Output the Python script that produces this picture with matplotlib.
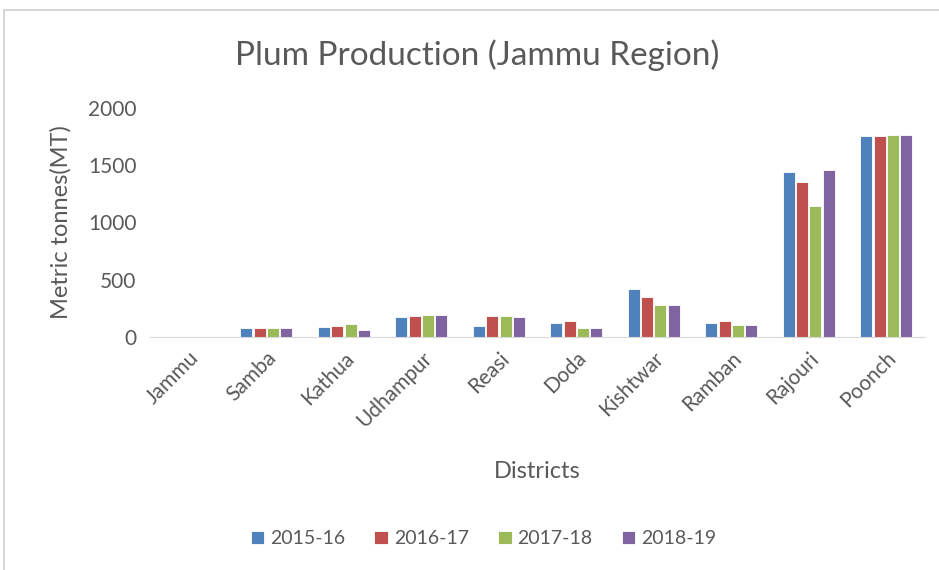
import matplotlib.pyplot as plt
import numpy as np
from matplotlib.patches import Rectangle

districts = ["Jammu", "Samba", "Kathua", "Udhampur", "Reasi", "Doda",
             "Kishtwar", "Ramban", "Rajouri", "Poonch"]
years = ["2015-16", "2016-17", "2017-18", "2018-19"]

prod_2015 = [0, 80, 85, 175, 96, 125, 420, 125, 1440, 1750]
prod_2016 = [0, 80, 99, 186, 186, 140, 347, 140, 1355, 1750]
prod_2017 = [0, 80, 113, 195, 186, 80, 280, 102, 1145, 1762]
prod_2018 = [0, 80, 60, 195, 175, 80, 280, 102, 1455, 1762]

COLORS = ["#4F81BD", "#C0504D", "#9BBB59", "#8064A2"]
TEXT = "#595959"


def main():
    plt.rcParams["font.family"] = ["Lato", "DejaVu Sans"]
    fig = plt.figure(figsize=(9.39, 5.7), dpi=100)
    ax = fig.add_axes([0.16, 0.409, 0.825, 0.402])

    # chart frame
    fig.patches.append(Rectangle((0.0045, -0.05), 1.1, 1.032, transform=fig.transFigure,
                                 fill=False, edgecolor="#d0d0d0", linewidth=1.2))

    x = np.arange(len(districts))
    width = 0.155
    step = 0.172
    series = [prod_2015, prod_2016, prod_2017, prod_2018]
    for i, (vals, lab) in enumerate(zip(series, years)):
        ax.bar(x + (i - 1.5) * step, vals, width, color=COLORS[i], label=lab,
               edgecolor="white", linewidth=0.6)

    ax.set_xlim(-0.5, len(districts) - 0.5)
    ax.set_ylim(0, 2000)
    ax.set_yticks([0, 500, 1000, 1500, 2000])
    ax.set_xticks(x)
    ax.set_xticklabels(districts, rotation=45, ha="right", rotation_mode="anchor")
    ax.tick_params(axis="both", length=0, colors=TEXT, labelsize=15)
    ax.tick_params(axis="x", pad=8)
    ax.tick_params(axis="y", pad=10)
    for s in ["top", "right", "left"]:
        ax.spines[s].set_visible(False)
    ax.spines["bottom"].set_color("#d9d9d9")

    fig.text(0.508, 0.903, "Plum Production (Jammu Region)", fontsize=24, color=TEXT,
             ha="center", va="center")
    ax.set_xlabel("Districts", fontsize=17, color=TEXT, labelpad=22)
    ax.set_ylabel("Metric tonnes(MT)", fontsize=17, color=TEXT, labelpad=12)

    leg = fig.legend(loc="center", bbox_to_anchor=(0.515, 0.055), ncol=4, frameon=False,
                     fontsize=14, handlelength=0.7, handleheight=0.7, handletextpad=0.3,
                     columnspacing=1.5)
    for t in leg.get_texts():
        t.set_color(TEXT)

    fig.savefig("out.png", dpi=100)


if __name__ == "__main__":
    main()
